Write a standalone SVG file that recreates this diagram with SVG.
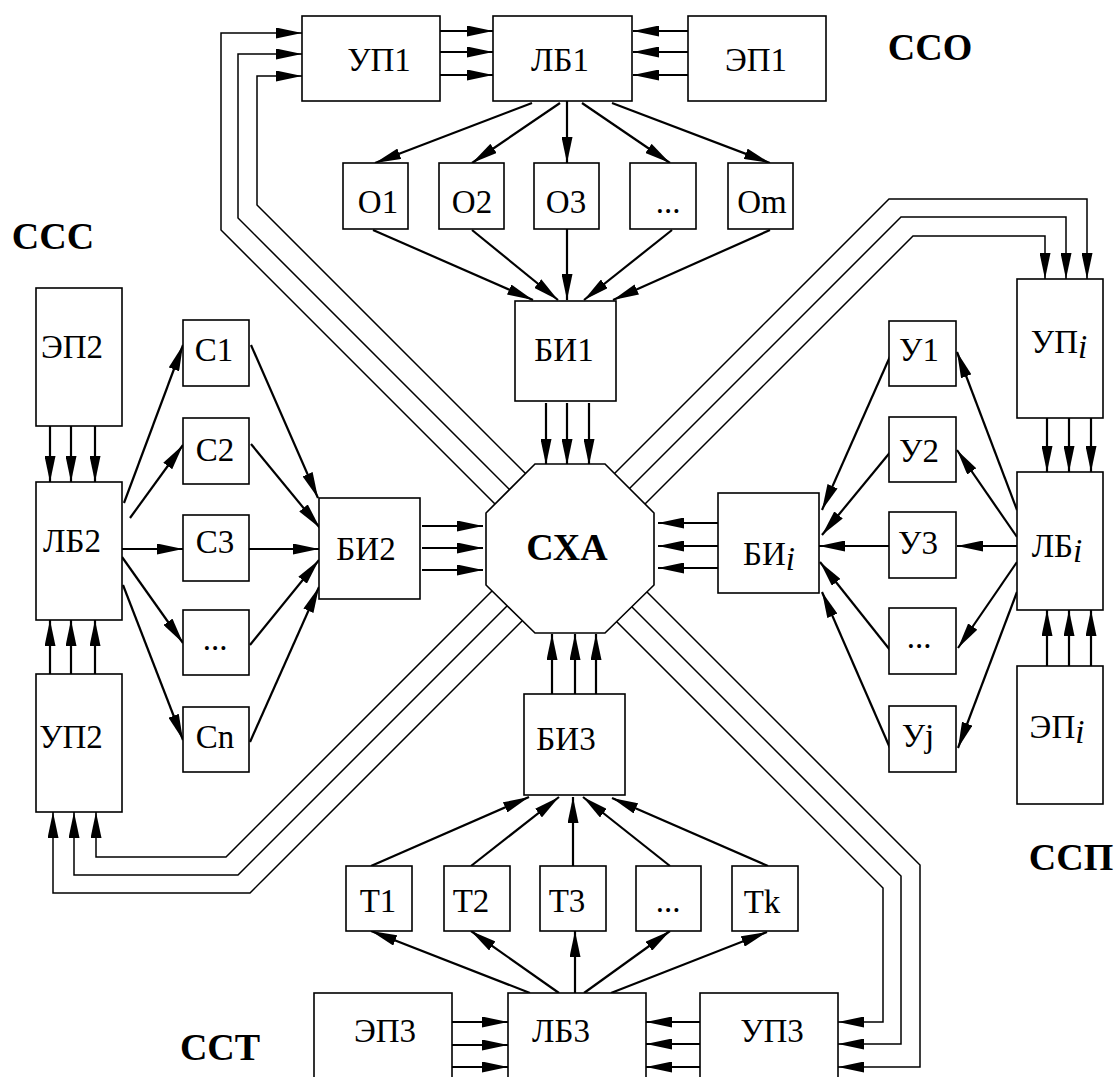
<svg xmlns="http://www.w3.org/2000/svg" width="1120" height="1077" viewBox="0 0 1120 1077">
<defs>
<marker id="ah" viewBox="0 0 26 11" markerUnits="userSpaceOnUse" markerWidth="26" markerHeight="11" refX="26" refY="5.5" orient="auto">
<path d="M0,0 L26,5.5 L0,11 z" fill="#000"/>
</marker>
</defs>
<style>
.b{fill:#fff;stroke:#000;stroke-width:1.6}
.t{font-family:"Liberation Serif","Times New Roman",serif;font-size:33px;text-anchor:middle;fill:#000}
.h{font-family:"Liberation Serif","Times New Roman",serif;font-size:38px;font-weight:bold;text-anchor:middle;fill:#000}
.a{stroke:#000;stroke-width:2.2;fill:none;marker-end:url(#ah)}
.w{stroke:#000;stroke-width:1.5;fill:none;marker-end:url(#ah)}
.i{font-style:italic}
</style>
<rect width="1120" height="1077" fill="#fff"/>

<g id="connectors">
<polyline class="w" points="495,504 221,230 221,33 302,33"/>
<polyline class="w" points="509.5,489.5 238,218 238,54 302,54"/>
<polyline class="w" points="525.5,473.5 257,205 257,76 302,76"/>
<polyline class="w" points="614.5,473.5 889,199 1087,199 1087,279"/>
<polyline class="w" points="629.5,488.5 901,217 1066,217 1066,279"/>
<polyline class="w" points="645,504 913,236 1045,236 1045,279"/>
<polyline class="w" points="492,591 226,857 96,857 96,812"/>
<polyline class="w" points="507,606 238,875 74,875 74,812"/>
<polyline class="w" points="522,621 250,893 53,893 53,812"/>
<polyline class="w" points="616.5,621.5 883,888 883,1022 838,1022"/>
<polyline class="w" points="631.5,606.5 901,876 901,1044 838,1044"/>
<polyline class="w" points="646.5,591.5 920,865 920,1067 838,1067"/>
<line class="a" x1="438" y1="31" x2="493" y2="31"/>
<line class="a" x1="438" y1="52" x2="493" y2="52"/>
<line class="a" x1="438" y1="75" x2="493" y2="75"/>
<line class="a" x1="688" y1="31" x2="633" y2="31"/>
<line class="a" x1="688" y1="52" x2="633" y2="52"/>
<line class="a" x1="688" y1="75" x2="633" y2="75"/>
<line class="a" x1="532" y1="103" x2="375" y2="163"/>
<line class="a" x1="560" y1="103" x2="472" y2="163"/>
<line class="a" x1="567" y1="101" x2="567" y2="163"/>
<line class="a" x1="582" y1="103" x2="670" y2="163"/>
<line class="a" x1="612" y1="103" x2="770" y2="163"/>
<line class="a" x1="373" y1="230" x2="533" y2="300"/>
<line class="a" x1="472" y1="230" x2="558" y2="300"/>
<line class="a" x1="567" y1="229" x2="567" y2="300"/>
<line class="a" x1="672" y1="230" x2="584" y2="300"/>
<line class="a" x1="770" y1="230" x2="613" y2="300"/>
<line class="a" x1="546" y1="403" x2="546" y2="465"/>
<line class="a" x1="567" y1="403" x2="567" y2="465"/>
<line class="a" x1="589" y1="403" x2="589" y2="465"/>
<line class="a" x1="50" y1="426" x2="50" y2="482"/>
<line class="a" x1="71" y1="426" x2="71" y2="482"/>
<line class="a" x1="95" y1="426" x2="95" y2="482"/>
<line class="a" x1="50" y1="674" x2="50" y2="620"/>
<line class="a" x1="71" y1="674" x2="71" y2="620"/>
<line class="a" x1="95" y1="674" x2="95" y2="620"/>
<line class="a" x1="124" y1="503" x2="183" y2="345"/>
<line class="a" x1="130" y1="518" x2="183" y2="445"/>
<line class="a" x1="122" y1="549" x2="183" y2="549"/>
<line class="a" x1="122" y1="557" x2="183" y2="643"/>
<line class="a" x1="123" y1="585" x2="183" y2="740"/>
<line class="a" x1="251" y1="345" x2="318" y2="498"/>
<line class="a" x1="251" y1="444" x2="320" y2="528"/>
<line class="a" x1="249" y1="549" x2="319" y2="549"/>
<line class="a" x1="250" y1="645" x2="319" y2="560"/>
<line class="a" x1="250" y1="742" x2="319" y2="587"/>
<line class="a" x1="422" y1="526" x2="483" y2="526"/>
<line class="a" x1="422" y1="548" x2="483" y2="548"/>
<line class="a" x1="422" y1="570" x2="483" y2="570"/>
<line class="a" x1="718" y1="523" x2="658" y2="523"/>
<line class="a" x1="718" y1="546" x2="658" y2="546"/>
<line class="a" x1="718" y1="568" x2="658" y2="568"/>
<line class="a" x1="1017" y1="510" x2="957" y2="352"/>
<line class="a" x1="1017" y1="537" x2="957" y2="450"/>
<line class="a" x1="1017" y1="546" x2="957" y2="546"/>
<line class="a" x1="1017" y1="562" x2="958" y2="648"/>
<line class="a" x1="1017" y1="592" x2="958" y2="748"/>
<line class="a" x1="892" y1="352" x2="822" y2="510"/>
<line class="a" x1="892" y1="450" x2="822" y2="535"/>
<line class="a" x1="889" y1="546" x2="819" y2="546"/>
<line class="a" x1="890" y1="650" x2="820" y2="562"/>
<line class="a" x1="890" y1="748" x2="822" y2="592"/>
<line class="a" x1="1047" y1="418" x2="1047" y2="472"/>
<line class="a" x1="1069" y1="418" x2="1069" y2="472"/>
<line class="a" x1="1091" y1="418" x2="1091" y2="472"/>
<line class="a" x1="1047" y1="666" x2="1047" y2="610"/>
<line class="a" x1="1069" y1="666" x2="1069" y2="610"/>
<line class="a" x1="1091" y1="666" x2="1091" y2="610"/>
<line class="a" x1="371" y1="866" x2="529" y2="797"/>
<line class="a" x1="471" y1="866" x2="559" y2="797"/>
<line class="a" x1="573" y1="866" x2="573" y2="797"/>
<line class="a" x1="670" y1="866" x2="583" y2="797"/>
<line class="a" x1="768" y1="866" x2="612" y2="798"/>
<line class="a" x1="530" y1="993" x2="371" y2="931"/>
<line class="a" x1="559" y1="993" x2="471" y2="931"/>
<line class="a" x1="575" y1="993" x2="575" y2="931"/>
<line class="a" x1="584" y1="993" x2="670" y2="931"/>
<line class="a" x1="611" y1="993" x2="767" y2="932"/>
<line class="a" x1="552" y1="694" x2="552" y2="634"/>
<line class="a" x1="575" y1="694" x2="575" y2="634"/>
<line class="a" x1="596" y1="694" x2="596" y2="634"/>
<line class="a" x1="452" y1="1022" x2="508" y2="1022"/>
<line class="a" x1="452" y1="1045" x2="508" y2="1045"/>
<line class="a" x1="452" y1="1067" x2="508" y2="1067"/>
<line class="a" x1="700" y1="1022" x2="646" y2="1022"/>
<line class="a" x1="700" y1="1044" x2="646" y2="1044"/>
<line class="a" x1="700" y1="1067" x2="646" y2="1067"/>
</g>

<g id="sxa"><polygon class="b" points="535,464 605,464 654,513 654,585 605,633 535,633 486,585 486,513"/><text class="h" x="567" y="560">СХА</text></g>

<g id="up1"><rect class="b" x="302" y="16" width="138" height="85"/><text class="t" x="379" y="71">УП1</text></g>
<g id="lb1"><rect class="b" x="493" y="16" width="139" height="85"/><text class="t" x="560" y="71">ЛБ1</text></g>
<g id="ep1"><rect class="b" x="688" y="16" width="138" height="85"/><text class="t" x="756" y="71">ЭП1</text></g>
<g id="o1"><rect class="b" x="343" y="163" width="65" height="66"/><text class="t" x="378" y="213">О1</text></g>
<g id="o2"><rect class="b" x="439" y="163" width="65" height="66"/><text class="t" x="472" y="213">О2</text></g>
<g id="o3"><rect class="b" x="534" y="163" width="65" height="66"/><text class="t" x="566" y="213">О3</text></g>
<g id="o4"><rect class="b" x="630" y="163" width="66" height="66"/><text class="t" x="668" y="213">...</text></g>
<g id="om"><rect class="b" x="728" y="163" width="65" height="66"/><text class="t" x="762" y="213">Оm</text></g>
<g id="bi1"><rect class="b" x="515" y="301" width="101" height="100"/><text class="t" x="564" y="361">БИ1</text></g>

<g id="ep2"><rect class="b" x="36" y="288" width="86" height="138"/><text class="t" x="72" y="358">ЭП2</text></g>
<g id="lb2"><rect class="b" x="36" y="482" width="86" height="138"/><text class="t" x="72" y="552">ЛБ2</text></g>
<g id="up2"><rect class="b" x="36" y="674" width="86" height="138"/><text class="t" x="71" y="748">УП2</text></g>
<g id="c1"><rect class="b" x="183" y="320" width="66" height="66"/><text class="t" x="214" y="361">С1</text></g>
<g id="c2"><rect class="b" x="183" y="418" width="66" height="66"/><text class="t" x="215" y="461">С2</text></g>
<g id="c3"><rect class="b" x="183" y="515" width="66" height="66"/><text class="t" x="215" y="553">С3</text></g>
<g id="c4"><rect class="b" x="183" y="610" width="66" height="65"/><text class="t" x="215" y="650">...</text></g>
<g id="cn"><rect class="b" x="183" y="707" width="66" height="65"/><text class="t" x="215" y="748">Сn</text></g>
<g id="bi2"><rect class="b" x="319" y="498" width="101" height="101"/><text class="t" x="366" y="560">БИ2</text></g>

<g id="u1"><rect class="b" x="889" y="321" width="67" height="65"/><text class="t" x="919" y="361">У1</text></g>
<g id="u2"><rect class="b" x="889" y="417" width="67" height="65"/><text class="t" x="919" y="462">У2</text></g>
<g id="u3"><rect class="b" x="889" y="512" width="67" height="66"/><text class="t" x="918" y="554">У3</text></g>
<g id="u4"><rect class="b" x="889" y="608" width="67" height="66"/><text class="t" x="919" y="648">...</text></g>
<g id="uj"><rect class="b" x="889" y="706" width="67" height="66"/><text class="t" x="918" y="747">Уj</text></g>
<g id="bii"><rect class="b" x="718" y="493" width="101" height="100"/><text class="t" x="769" y="565">БИ<tspan class="i" dy="5">i</tspan></text></g>
<g id="upi"><rect class="b" x="1017" y="279" width="86" height="139"/><text class="t" x="1059" y="353">УП<tspan class="i" dy="5">i</tspan></text></g>
<g id="lbi"><rect class="b" x="1017" y="472" width="86" height="138"/><text class="t" x="1057" y="557">ЛБ<tspan class="i" dy="5">i</tspan></text></g>
<g id="epi"><rect class="b" x="1017" y="666" width="86" height="138"/><text class="t" x="1057" y="738">ЭП<tspan class="i" dy="5">i</tspan></text></g>

<g id="t1"><rect class="b" x="346" y="866" width="66" height="65"/><text class="t" x="378" y="912">Т1</text></g>
<g id="t2"><rect class="b" x="444" y="866" width="66" height="65"/><text class="t" x="471" y="912">Т2</text></g>
<g id="t3"><rect class="b" x="540" y="866" width="66" height="65"/><text class="t" x="567" y="912">Т3</text></g>
<g id="t4"><rect class="b" x="636" y="866" width="65" height="65"/><text class="t" x="668" y="912">...</text></g>
<g id="tk"><rect class="b" x="732" y="866" width="66" height="65"/><text class="t" x="762" y="913">Тk</text></g>
<g id="bi3"><rect class="b" x="524" y="694" width="101" height="101"/><text class="t" x="566" y="750">БИ3</text></g>
<g id="ep3"><rect class="b" x="314" y="993" width="138" height="110"/><text class="t" x="385" y="1042">ЭП3</text></g>
<g id="lb3"><rect class="b" x="508" y="993" width="138" height="110"/><text class="t" x="561" y="1042">ЛБ3</text></g>
<g id="up3"><rect class="b" x="700" y="993" width="138" height="110"/><text class="t" x="772" y="1042">УП3</text></g>

<g id="labels">
<text class="h" x="930" y="60">ССО</text>
<text class="h" x="53" y="249">ССС</text>
<text class="h" x="1071" y="870">ССП</text>
<text class="h" x="220" y="1060">ССТ</text>
</g>
</svg>
